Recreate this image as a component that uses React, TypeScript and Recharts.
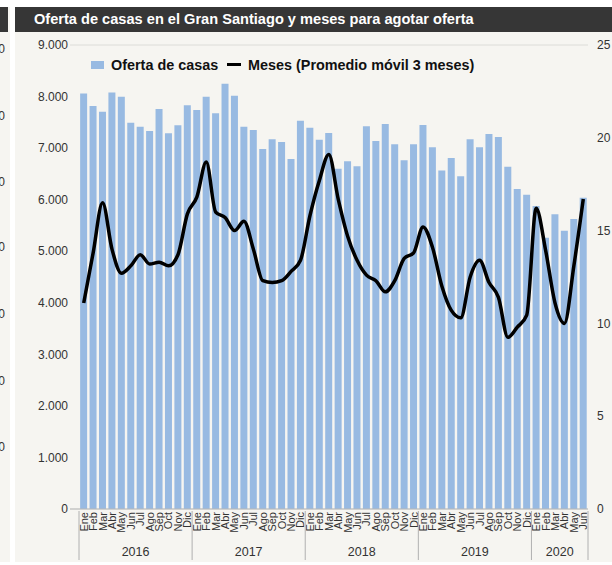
import { ComposedChart, Bar, Line, XAxis, YAxis, CartesianGrid } from 'recharts';

const MONTHS = ['Ene', 'Feb', 'Mar', 'Abr', 'May', 'Jun', 'Jul', 'Ago', 'Sep', 'Oct', 'Nov', 'Dic'];
const YEARS = [2016, 2017, 2018, 2019, 2020];
const MONTHS_PER_YEAR = [12, 12, 12, 12, 6];

// Oferta de casas (unidades), Ene 2016 - Jun 2020
const ofertaCasas = [
  8060, 7816, 7706, 8081, 7997, 7493, 7415, 7331, 7758, 7286, 7442, 7830,
  7738, 7997, 7674, 8250, 8016, 7415, 7350, 6982, 7170, 7118, 6788, 7531,
  7396, 7163, 7292, 6600, 6743, 6646, 7422, 7137, 7467, 7073, 6763, 7073,
  7450, 7015, 6565, 6810, 6452, 7170, 7015, 7273, 7215, 6639, 6206, 6096,
  5877, 5262, 5716, 5398, 5624, 6038,
];

// Meses para agotar oferta (promedio móvil 3 meses)
const mesesAgotar = [
  11.1, 13.8, 16.5, 14.0, 12.7, 13.1, 13.7, 13.2, 13.3, 13.1, 13.7, 15.9,
  16.8, 18.7, 16.0, 15.7, 15.0, 15.5, 14.0, 12.3, 12.2, 12.3, 12.8, 13.4,
  15.8, 17.7, 19.1, 16.7, 14.7, 13.4, 12.6, 12.3, 11.7, 12.3, 13.5, 13.8,
  15.2, 14.1, 12.0, 10.7, 10.3, 12.5, 13.4, 12.2, 11.4, 9.25, 9.8, 10.45,
  16.2, 13.95, 11.1, 10.0, 13.1, 16.7,
];

const OFERTA_TICKS = [0, 1000, 2000, 3000, 4000, 5000, 6000, 7000, 8000, 9000];
const MESES_TICKS = [0, 5, 10, 15, 20, 25];
const SIDE_LABEL_ROWS = [49, 116, 182, 247, 314, 381, 447];

const data = YEARS.flatMap((year, yi) =>
  MONTHS.slice(0, MONTHS_PER_YEAR[yi]).map((mes, mi) => ({ year, mes, monthIndex: mi, count: MONTHS_PER_YEAR[yi] }))
).map((row, i) => ({ ...row, key: `${row.year}-${row.mes}`, oferta: ofertaCasas[i], meses: mesesAgotar[i] }));

const FONT = '"Liberation Sans", Arial, sans-serif';
const BG = '#f6f5f1';
const BAR_COLOR = '#98bae2';

// plot geometry
const WIDTH = 612;
const HEIGHT = 562;
const PLOT_LEFT = 70;
const PLOT_RIGHT = 588;
const PLOT_TOP = 45;
const PLOT_BOTTOM = 509;
const CAT_PAD = 9;
const BAND = (PLOT_RIGHT - PLOT_LEFT - CAT_PAD) / data.length;

const formatMiles = (v: number) => String(v).replace(/\B(?=(\d{3})+(?!\d))/g, '.');

const MonthTick = ({ x, y, index }: any) => {
  const row = data[index];
  if (!row) return null;
  const left = x - BAND / 2;
  const right = x + BAND / 2;
  return (
    <g>
      <text
        x={x}
        y={y}
        dy="0.36em"
        transform={`rotate(-90 ${x} ${y})`}
        textAnchor="end"
        fontSize={11}
        fontFamily={FONT}
        fill="#333"
      >
        {row.mes}
      </text>
      {row.monthIndex === 0 && (
        <>
          <line x1={left} x2={left} y1={y - 1} y2={y + 48} stroke="#b0b0b0" />
          <text
            x={left + (BAND * row.count) / 2}
            y={y + 44}
            textAnchor="middle"
            fontSize={12.5}
            fontFamily={FONT}
            fill="#333"
          >
            {row.year}
          </text>
        </>
      )}
      {index === data.length - 1 && <line x1={right} x2={right} y1={y - 1} y2={y + 48} stroke="#b0b0b0" />}
    </g>
  );
};

export default function App() {
  return (
    <div style={{ position: 'absolute', left: 0, top: 0, width: 612, height: 565, background: '#fff', overflow: 'hidden', fontFamily: FONT }}>
      {/* panel vecino, cortado en el borde izquierdo */}
      <div style={{ position: 'absolute', left: 0, top: 7, width: 10, height: 555, background: BG, overflow: 'hidden' }}>
        <div style={{ position: 'absolute', left: 0, top: 0, width: 8, height: 25, background: '#363636' }} />
        {SIDE_LABEL_ROWS.map((top) => (
          <div key={top} style={{ position: 'absolute', right: 5, top: top - 7 - 7, fontSize: 12, color: '#333', lineHeight: '14px' }}>
            0
          </div>
        ))}
      </div>

      <div style={{ position: 'absolute', left: 15, top: 7, width: 597, height: 555, background: BG }} />
      <div
        style={{
          position: 'absolute',
          left: 15,
          top: 7,
          width: 597,
          height: 25,
          background: '#363636',
          color: '#fff',
          fontWeight: 'bold',
          fontSize: 14.6,
          lineHeight: '25px',
          paddingLeft: 19,
          boxSizing: 'border-box',
          whiteSpace: 'nowrap',
        }}
      >
        Oferta de casas en el Gran Santiago y meses para agotar oferta
      </div>

      <div style={{ position: 'absolute', left: 0, top: 0 }}>
        <ComposedChart
          width={WIDTH}
          height={HEIGHT}
          data={data}
          margin={{ top: PLOT_TOP, right: WIDTH - PLOT_RIGHT - 24, bottom: 0, left: 0 }}
          barCategoryGap="12%"
        >
          <CartesianGrid vertical={false} stroke="#dcdcd8" />
          <XAxis
            dataKey="key"
            interval={0}
            tickLine={false}
            tickSize={0}
            tickMargin={3}
            axisLine={{ stroke: '#b9b9b9' }}
            padding={{ left: CAT_PAD, right: 0 }}
            height={HEIGHT - PLOT_BOTTOM}
            tick={<MonthTick />}
          />
          <YAxis
            yAxisId="left"
            width={PLOT_LEFT}
            domain={[0, 9000]}
            ticks={OFERTA_TICKS}
            tickFormatter={formatMiles}
            axisLine={false}
            tickLine={false}
            tickSize={0}
            tickMargin={2}
            tick={{ fontSize: 12, fill: '#333', fontFamily: FONT }}
          />
          <YAxis
            yAxisId="right"
            orientation="right"
            width={24}
            domain={[0, 25]}
            ticks={MESES_TICKS}
            axisLine={false}
            tickLine={false}
            tickSize={0}
            tickMargin={9}
            tick={{ fontSize: 12, fill: '#333', fontFamily: FONT, textAnchor: 'start' }}
          />
          <Bar yAxisId="left" dataKey="oferta" fill={BAR_COLOR} isAnimationActive={false} />
          <Line
            yAxisId="right"
            dataKey="meses"
            type="monotone"
            stroke="#000"
            strokeWidth={3.5}
            dot={false}
            activeDot={false}
            isAnimationActive={false}
          />
        </ComposedChart>
      </div>

      {/* leyenda */}
      <div style={{ position: 'absolute', left: 91, top: 61, width: 13, height: 8, background: BAR_COLOR }} />
      <div style={{ position: 'absolute', left: 111, top: 57, fontSize: 14.4, fontWeight: 'bold', color: '#111', lineHeight: '16px', whiteSpace: 'nowrap' }}>
        Oferta de casas
      </div>
      <div style={{ position: 'absolute', left: 227, top: 63, width: 14, height: 3, background: '#000' }} />
      <div style={{ position: 'absolute', left: 248, top: 57, fontSize: 14.4, fontWeight: 'bold', color: '#111', lineHeight: '16px', whiteSpace: 'nowrap' }}>
        Meses (Promedio móvil 3 meses)
      </div>
    </div>
  );
}
